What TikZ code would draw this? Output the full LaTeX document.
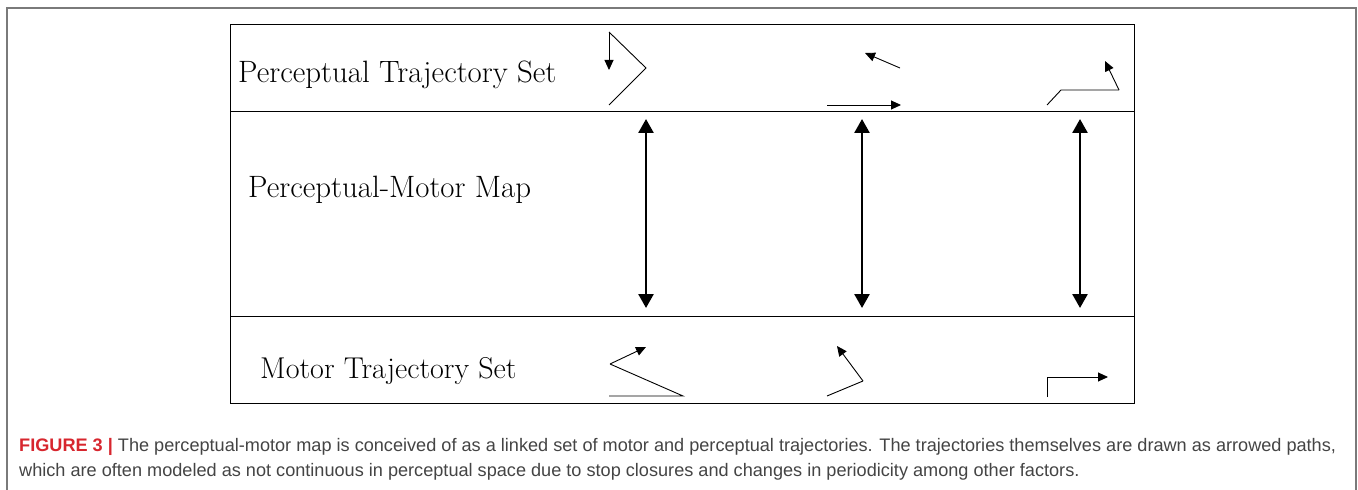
\documentclass[tikz,border=0pt]{standalone}
\usepackage{fontspec}
\setmainfont{Latin Modern Roman}
\newfontfamily\capfont{Liberation Sans}
\usetikzlibrary{arrows.meta}
\definecolor{framegray}{HTML}{7A7A7A}
\definecolor{captext}{HTML}{444444}
\definecolor{caplabel}{HTML}{D7262E}
\tikzset{
  traj/.style={line width=0.9bp, -{Triangle[length=10bp,width=9bp]}},
  trajline/.style={line width=0.9bp},
  linkarrow/.style={line width=2.6bp, {Triangle[length=14bp,width=15bp]}-{Triangle[length=14bp,width=15bp]}},
  boxline/.style={line width=1bp, black},
  rowlabel/.style={font=\fontsize{31}{37}\selectfont, anchor=west, inner sep=0pt},
  capline/.style={font=\capfont\fontsize{18.2}{22}\selectfont, text=captext, anchor=base west, inner sep=0pt}
}
\begin{document}
\begin{tikzpicture}[x=1bp,y=-1bp]
\useasboundingbox (0,0) rectangle (1358,490);
% outer frame (open at bottom)
\draw[framegray, line width=1.4bp] (7,490) -- (7,8) -- (1356,8) -- (1356,490);
% inner box
\draw[boxline] (230,25) rectangle (1134,403);
\draw[boxline] (230,112) -- (1134,112);
\draw[boxline] (230,316) -- (1134,316);
% row labels
\node[rowlabel] (lp) at (238,75) {Perceptual Trajectory Set};
\node[rowlabel] (lm) at (248,190) {Perceptual-Motor Map};
\node[rowlabel, font=\fontsize{30.2}{36}\selectfont] (lt) at (260,371) {Motor Trajectory Set};
% perceptual trajectories
\coordinate (p1a) at (609,105); \coordinate (p1b) at (646,68);
\coordinate (p1c) at (609,32); \coordinate (p1d) at (609,70);
\draw[trajline] (p1a) -- (p1b) -- (p1c);
\draw[traj] (p1c) -- (p1d);
\coordinate (p2a) at (900,68); \coordinate (p2b) at (865,53);
\draw[traj] (p2a) -- (p2b);
\coordinate (p2c) at (827,105); \coordinate (p2d) at (901,105);
\draw[traj] (p2c) -- (p2d);
\coordinate (p3a) at (1047,105); \coordinate (p3b) at (1061,90);
\coordinate (p3c) at (1119,90); \coordinate (p3d) at (1105,61);
\draw[trajline] (p3a) -- (p3b) -- (p3c);
\draw[traj] (p3c) -- (p3d);
% link arrows
\coordinate (a1t) at (646,119); \coordinate (a1b) at (646,308);
\coordinate (a2t) at (862,119); \coordinate (a2b) at (862,308);
\coordinate (a3t) at (1080,119); \coordinate (a3b) at (1080,308);
\draw[linkarrow] (a1t) -- (a1b);
\draw[linkarrow] (a2t) -- (a2b);
\draw[linkarrow] (a3t) -- (a3b);
% motor trajectories
\coordinate (m1a) at (609,396); \coordinate (m1b) at (683,396);
\coordinate (m1c) at (610,364); \coordinate (m1d) at (646,347);
\draw[trajline] (m1a) -- (m1b) -- (m1c);
\draw[traj] (m1c) -- (m1d);
\coordinate (m2a) at (827,396); \coordinate (m2b) at (863,381);
\coordinate (m2c) at (837,346);
\draw[trajline] (m2a) -- (m2b);
\draw[traj] (m2b) -- (m2c);
\coordinate (m3a) at (1047,397); \coordinate (m3b) at (1047,377);
\coordinate (m3c) at (1108,377);
\draw[trajline] (m3a) -- (m3b);
\draw[traj] (m3b) -- (m3c);
% caption
\node[capline] (c1) at (19,451) {{\bfseries\color{caplabel}FIGURE 3 |} The perceptual-motor map is conceived of as a linked set of motor and perceptual trajectories. The trajectories themselves are drawn as arrowed paths,};
\node[capline] (c2) at (19,476) {which are often modeled as not continuous in perceptual space due to stop closures and changes in periodicity among other factors.};
\end{tikzpicture}
\end{document}
